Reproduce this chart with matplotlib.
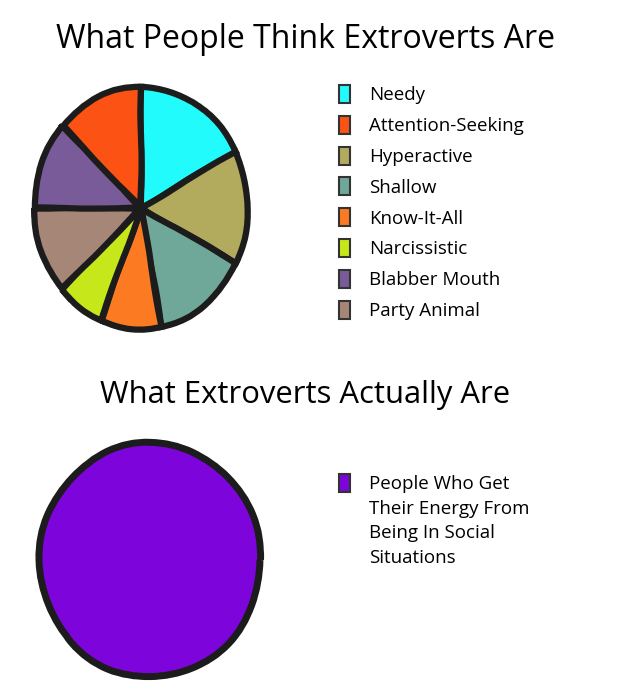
import matplotlib.pyplot as plt
from matplotlib.patches import Patch

# slices of the first pie, clockwise from 12 o'clock
think_labels = ['Needy', 'Hyperactive', 'Shallow', 'Know-It-All', 'Narcissistic',
                'Party Animal', 'Blabber Mouth', 'Attention-Seeking']
think_values = [17.3, 15.2, 14.4, 9.2, 7.2, 11.7, 11.9, 13.1]
think_colors = ['#22FBFB', '#B2AA5C', '#6FA898', '#FC7B22', '#C6E81A',
                '#A68777', '#785B98', '#FC5214']
# order used in the legend
legend_order = ['Needy', 'Attention-Seeking', 'Hyperactive', 'Shallow',
                'Know-It-All', 'Narcissistic', 'Blabber Mouth', 'Party Animal']

actual_label = 'People Who Get\nTheir Energy From\nBeing In Social\nSituations'
actual_values = [100]
actual_colors = ['#7E04DC']

edge = '#1c1c1c'
plt.rcParams['font.family'] = ['Open Sans', 'DejaVu Sans']

fig = plt.figure(figsize=(6.25, 6.94), dpi=100)
W, H = 625, 694

def px_axes(x0, y0, w, h):
    return fig.add_axes([x0 / W, 1 - (y0 + h) / H, w / W, h / H])

fig.text(305 / W, 1 - 40 / H, 'What People Think Extroverts Are',
         ha='center', va='center', fontsize=23)
fig.text(305 / W, 1 - 395 / H, 'What Extroverts Actually Are',
         ha='center', va='center', fontsize=22.3)

# first pie (hand drawn, a little taller than wide)
ax1 = px_axes(30, 82, 222, 252)
wedges, _ = ax1.pie(think_values, colors=think_colors, startangle=90,
                    counterclock=False, radius=1.0,
                    wedgeprops=dict(edgecolor=edge, linewidth=4.5))
for w in wedges:
    w.set_sketch_params(scale=0.6, length=150, randomness=4)
ax1.set_xlim(-1.04, 1.04)
ax1.set_ylim(-1.04, 1.04)
ax1.set_aspect('auto')

color_of = dict(zip(think_labels, think_colors))
handles = [Patch(facecolor=color_of[n], edgecolor='#333333', linewidth=1.5)
           for n in legend_order]
fig.legend(handles, legend_order, loc='upper left',
           bbox_to_anchor=(322 / W, 1 - 68 / H), frameon=False,
           fontsize=13.5, handlelength=0.6, handleheight=1.1,
           handletextpad=1.0, labelspacing=0.61)

# second pie
ax2 = px_axes(35, 438, 230, 244)
w2, _ = ax2.pie(actual_values, colors=actual_colors, startangle=90,
                wedgeprops=dict(edgecolor=edge, linewidth=5))
w2[0].set_sketch_params(scale=0.8, length=200, randomness=4)
ax2.set_xlim(-1.04, 1.04)
ax2.set_ylim(-1.04, 1.04)
ax2.set_aspect('auto')

# legend swatch sits on the first text line only
lines = actual_label.split('\n')
h2 = [Patch(facecolor=actual_colors[0], edgecolor='#333333', linewidth=1.5)]
h2 += [Patch(visible=False) for _ in lines[1:]]
fig.legend(h2, lines, loc='upper left',
           bbox_to_anchor=(322 / W, 1 - 457 / H), frameon=False,
           fontsize=13.5, handlelength=0.6, handleheight=1.1,
           handletextpad=1.0, labelspacing=0.27)

fig.savefig('out.png', dpi=100, facecolor='white')
